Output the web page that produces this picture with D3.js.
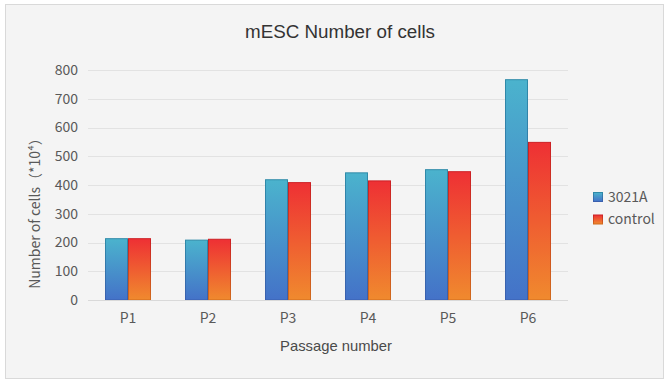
<!DOCTYPE html>
<html>
<head>
<meta charset="utf-8">
<script src="https://cdn.jsdelivr.net/npm/d3@7"></script>
<style>
  body { margin: 0; background: #fff; }
  svg { display: block; }
</style>
</head>
<body>
<div id="chart"></div>
<script>
// chart values
const categories = ["P1", "P2", "P3", "P4", "P5", "P6"];
const seriesNames = ["3021A", "control"];
const values3021A = [215, 210, 420, 444, 455, 768];
const valuesControl = [215, 213, 410, 416, 448, 550];
const yTicks = [0, 100, 200, 300, 400, 500, 600, 700, 800];

const width = 672, height = 385;
const plot = { left: 88, right: 568, top: 70, bottom: 300 };
const labelFont = "'Noto Sans CJK SC', 'Noto Sans', sans-serif";

const svg = d3.select("#chart").append("svg")
    .attr("width", width)
    .attr("height", height);

// gradients for the two series (top colour -> bottom colour)
const defs = svg.append("defs");
const grads = [
    { id: "g0", top: "#4bb3cd", bottom: "#4472c8", stTop: "#2f8aa8", stBottom: "#3a5fae" },
    { id: "g1", top: "#ee3034", bottom: "#f08a2e", stTop: "#cc1f24", stBottom: "#d06a1c" }
];
grads.forEach(g => {
    let lg = defs.append("linearGradient").attr("id", g.id)
        .attr("x1", 0).attr("y1", 0).attr("x2", 0).attr("y2", 1);
    lg.append("stop").attr("offset", "0%").attr("stop-color", g.top);
    lg.append("stop").attr("offset", "100%").attr("stop-color", g.bottom);
    let ls = defs.append("linearGradient").attr("id", g.id + "s")
        .attr("x1", 0).attr("y1", 0).attr("x2", 0).attr("y2", 1);
    ls.append("stop").attr("offset", "0%").attr("stop-color", g.stTop);
    ls.append("stop").attr("offset", "100%").attr("stop-color", g.stBottom);
});

// background panel
svg.append("rect")
    .attr("x", 5.5).attr("y", 4.5)
    .attr("width", 658).attr("height", 374)
    .attr("fill", "#f4f4f4")
    .attr("stroke", "#d9d9d9");

const x = d3.scaleBand()
    .domain(categories)
    .range([plot.left, plot.right])
    .paddingInner(0.425)
    .paddingOuter(0.2125);

const xSub = d3.scaleBand()
    .domain(seriesNames)
    .range([0, x.bandwidth()]);

const y = d3.scaleLinear()
    .domain([0, 800])
    .range([plot.bottom, plot.top]);

// grid lines
svg.append("g").selectAll("line")
    .data(yTicks.slice(1))
    .join("line")
    .attr("x1", plot.left).attr("x2", plot.right)
    .attr("y1", d => Math.round(y(d)) + 0.5)
    .attr("y2", d => Math.round(y(d)) + 0.5)
    .attr("stroke", "#e2e2e2");

// y axis labels
const yAxis = svg.append("g")
    .attr("transform", `translate(${plot.left},0)`)
    .call(d3.axisLeft(y).tickValues(yTicks).tickSize(0).tickPadding(10));
yAxis.select(".domain").remove();
yAxis.selectAll("text")
    .attr("fill", "#595959")
    .style("font-size", "14px")
    .style("font-family", labelFont);

// bars
const rows = categories.map((c, i) => ({ cat: c, vals: [values3021A[i], valuesControl[i]] }));
const groups = svg.append("g").selectAll("g")
    .data(rows)
    .join("g")
    .attr("transform", d => `translate(${x(d.cat)},0)`);

groups.selectAll("rect")
    .data(d => d.vals.map((v, k) => ({ name: seriesNames[k], v: v, k: k })))
    .join("rect")
    .attr("x", d => xSub(d.name) + 0.5)
    .attr("y", d => y(d.v) + 0.5)
    .attr("width", xSub.bandwidth() - 1)
    .attr("height", d => y(0) - y(d.v) - 0.5)
    .attr("fill", d => `url(#g${d.k})`)
    .attr("stroke", d => `url(#g${d.k}s)`)
    .attr("stroke-width", 1);

// x axis
const xAxis = svg.append("g")
    .attr("transform", `translate(0,${plot.bottom})`)
    .call(d3.axisBottom(x).tickSize(0).tickPadding(13));
xAxis.select(".domain").attr("stroke", "#d9d9d9").attr("d", `M${plot.left},0.5H${plot.right}`);
xAxis.selectAll("text")
    .attr("fill", "#595959")
    .style("font-size", "14px")
    .style("font-family", labelFont);

// titles
svg.append("text")
    .attr("x", 340).attr("y", 38)
    .attr("text-anchor", "middle")
    .attr("fill", "#333")
    .style("font-size", "18.8px")
    .style("font-family", "'Liberation Sans', Arial, sans-serif")
    .text("mESC Number of cells");

svg.append("text")
    .attr("x", 336).attr("y", 351)
    .attr("text-anchor", "middle")
    .attr("fill", "#4a4a4a")
    .style("font-size", "14.8px")
    .style("font-family", "'Liberation Sans', Arial, sans-serif")
    .text("Passage number");

svg.append("text")
    .attr("transform", "translate(40,210) rotate(-90)")
    .attr("text-anchor", "middle")
    .attr("fill", "#595959")
    .style("font-size", "14px")
    .style("font-family", labelFont)
    .text("Number of cells（*10⁴）");

// legend
const legend = svg.append("g").selectAll("g")
    .data(seriesNames)
    .join("g")
    .attr("transform", (d, i) => `translate(593,${192 + i * 22.5})`);
legend.append("rect")
    .attr("x", 0.5).attr("y", 0.5)
    .attr("width", 9).attr("height", 9)
    .attr("fill", (d, i) => `url(#g${i})`)
    .attr("stroke", (d, i) => `url(#g${i}s)`);
legend.append("text")
    .attr("x", 15).attr("y", 5)
    .attr("dy", "0.35em")
    .attr("fill", "#595959")
    .style("font-size", "14px")
    .style("font-family", labelFont)
    .text(d => d);
</script>
</body>
</html>
